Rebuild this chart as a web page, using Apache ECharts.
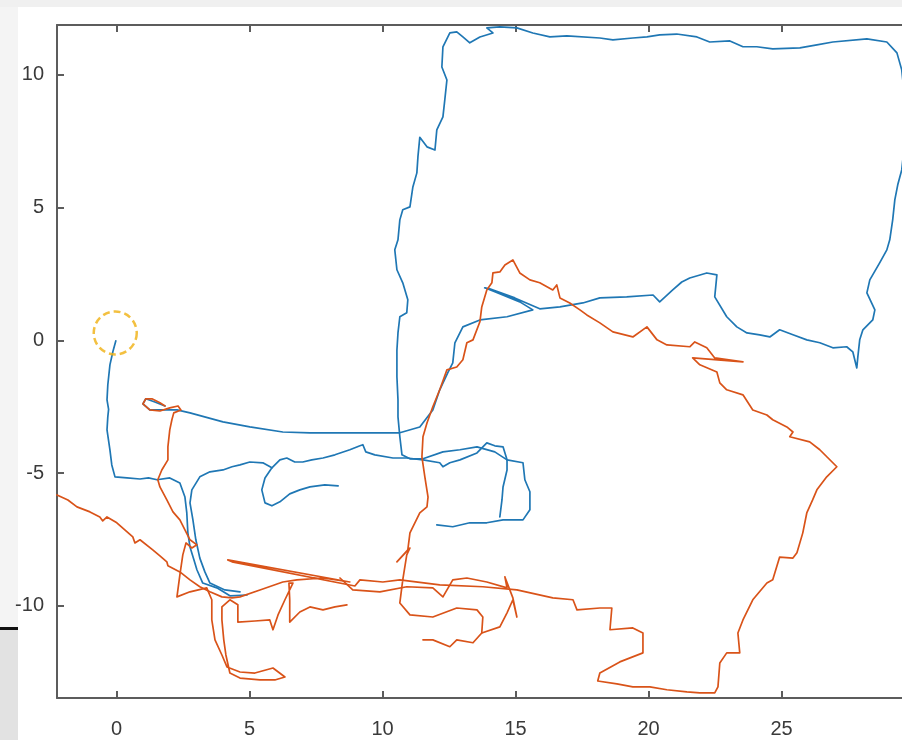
<!DOCTYPE html>
<html>
<head>
<meta charset="utf-8">
<script src="https://cdn.jsdelivr.net/npm/echarts@6/dist/echarts.min.js"></script>
<style>
html,body{margin:0;padding:0;background:#fff;}
#chart{width:902px;height:740px;}
</style>
</head>
<body>
<div id="chart"></div>
<script>
// ---- tick labels ----
const xTicks = [0, 5, 10, 15, 20, 25];
const yTicks = [-10, -5, 0, 5, 10];
const xRange = [-2.24, 29.53];
const yRange = [-13.47, 11.88];

// ---- start marker ----
const startMarker = [[-0.05, 0.28]];

// ---- blue trajectory (segments) ----
const blueA = [[-0.03,-0.02],[-0.14,-0.43],[-0.25,-0.92],[-0.33,-1.68],[-0.36,-2.24],[-0.30,-2.6],[-0.33,-2.88],[-0.36,-3.37],[-0.25,-4.12],[-0.18,-4.69],[-0.06,-5.14],[0.39,-5.18],[0.88,-5.22],[1.2,-5.18],[1.52,-5.25],[2.00,-5.18],[2.38,-5.37],[2.57,-5.90],[2.64,-6.50],[2.68,-7.25],[2.76,-7.78],[2.91,-8.27],[3.02,-8.64],[3.24,-9.14],[3.77,-9.32],[4.26,-9.62],[4.90,-9.59]];
const blueB = [[4.64,-9.47],[4.07,-9.40],[3.51,-9.14],[3.32,-8.72],[3.13,-8.20],[2.98,-7.51],[2.87,-6.76],[2.76,-6.12],[2.83,-5.63],[3.13,-5.14],[3.51,-4.95],[4.00,-4.88],[4.34,-4.76],[4.64,-4.69],[5.01,-4.58],[5.50,-4.61],[5.84,-4.80],[5.58,-5.18],[5.46,-5.63],[5.58,-6.12],[5.84,-6.23],[6.14,-6.08],[6.51,-5.78],[6.89,-5.63],[7.27,-5.52],[7.83,-5.44],[8.33,-5.48]];
const blueC = [[5.84,-4.80],[6.14,-4.50],[6.40,-4.43],[6.70,-4.58],[7.00,-4.58],[7.34,-4.50],[7.76,-4.43],[8.21,-4.31],[8.77,-4.12],[9.15,-3.97],[9.26,-3.93],[9.37,-4.20],[9.71,-4.31],[10.39,-4.43],[10.91,-4.43],[11.52,-4.50],[12.15,-4.61],[12.27,-4.76],[12.53,-4.61],[12.91,-4.50],[13.55,-4.24],[13.92,-3.86],[14.22,-3.97],[14.53,-4.01],[14.68,-4.50],[15.28,-4.61],[15.35,-5.25],[15.54,-5.70],[15.54,-6.38],[15.28,-6.76],[14.53,-6.76],[13.92,-6.87],[13.28,-6.87],[12.64,-7.02],[12.04,-6.95]];
const blueD = [[14.41,-6.65],[14.49,-6.01],[14.53,-5.52],[14.68,-4.88],[14.68,-4.50],[14.22,-4.20],[13.55,-4.01],[12.91,-4.12],[12.27,-4.20],[11.52,-4.46],[11.03,-4.46],[10.73,-4.31],[10.65,-3.63],[10.58,-2.88],[10.58,-2.24],[10.54,-1.37],[10.54,-0.36],[10.58,0.28],[10.65,0.89],[10.91,1.04],[10.95,1.53],[10.76,2.17],[10.54,2.66],[10.46,3.41],[10.58,3.79],[10.65,4.54],[10.76,4.92],[11.03,5.03],[11.14,5.78],[11.29,6.31],[11.33,6.91],[11.40,7.65],[11.67,7.29],[11.97,7.17],[12.04,7.93],[12.27,8.42],[12.34,9.06],[12.42,9.81],[12.23,10.30],[12.27,11.06],[12.53,11.58],[12.79,11.62],[13.02,11.43],[13.28,11.21],[13.66,11.43],[14.15,11.58],[13.92,11.77],[14.41,11.81],[15.05,11.77],[15.65,11.58],[16.29,11.43],[16.93,11.47],[18.17,11.39],[18.66,11.32],[19.41,11.39],[19.94,11.43],[20.42,11.51],[21.06,11.54],[21.82,11.43],[22.30,11.24],[23.06,11.28],[23.55,11.06],[24.07,11.06],[24.67,10.98],[25.69,11.02],[26.33,11.13],[26.93,11.24],[28.21,11.36],[28.96,11.24],[29.34,10.83],[29.52,10.19],[29.64,9.06],[29.64,7.55],[29.52,6.42],[29.37,5.86],[29.26,5.29],[29.18,4.54],[29.07,3.79],[28.96,3.41],[28.69,2.92],[28.32,2.28],[28.21,1.79],[28.51,1.15],[28.43,0.77],[28.06,0.40],[27.94,0.02],[27.87,-0.62],[27.83,-1.04],[27.68,-0.43],[27.45,-0.24],[26.93,-0.28],[26.44,-0.09],[25.95,0.02],[25.43,0.21],[24.93,0.40],[24.56,0.13],[24.18,0.21],[23.70,0.28],[23.32,0.51],[22.94,0.89],[22.49,1.64],[22.57,2.47],[22.19,2.54],[21.55,2.35],[21.25,2.20],[20.91,1.90],[20.42,1.45],[20.17,1.71],[19.18,1.64],[18.17,1.60],[17.53,1.41],[16.67,1.26],[15.91,1.19],[14.97,1.60],[14.03,1.94],[13.84,1.98],[14.22,1.83],[15.16,1.45],[15.65,1.15],[14.68,0.89],[13.66,0.77],[13.02,0.51],[12.72,-0.09],[12.64,-0.85],[12.45,-1.22],[12.15,-1.86],[11.89,-2.62],[11.40,-3.26],[10.65,-3.48],[9.52,-3.48],[8.51,-3.48],[7.27,-3.48],[6.25,-3.45],[5.01,-3.26],[4.00,-3.07],[2.76,-2.73],[2.27,-2.62],[1.82,-2.62],[1.25,-2.62],[0.99,-2.39],[1.10,-2.20],[1.44,-2.32],[1.82,-2.47]];

// ---- orange trajectory (segments) ----
const orangeA = [[-2.24,-5.82],[-1.83,-6.01],[-1.49,-6.27],[-1.00,-6.46],[-0.63,-6.65],[-0.52,-6.80],[-0.36,-6.65],[0.01,-6.87],[0.31,-7.14],[0.61,-7.40],[0.69,-7.63],[0.88,-7.51],[1.36,-7.89],[1.63,-8.12],[1.89,-8.34],[1.93,-8.49],[2.38,-8.72],[2.76,-9.02],[3.13,-9.28],[3.51,-9.47],[3.96,-9.66],[4.34,-9.70],[4.64,-9.66],[5.39,-9.40],[6.25,-9.10],[6.78,-9.02],[7.76,-8.95],[8.77,-9.10],[4.18,-8.27],[4.34,-8.34],[8.96,-9.25],[9.15,-9.02],[10.01,-9.10],[10.65,-9.02],[12.15,-9.21],[13.77,-9.28],[15.05,-9.40],[16.40,-9.70],[17.16,-9.77],[17.31,-10.15],[18.17,-10.08],[18.62,-10.08],[18.55,-10.90],[19.41,-10.83],[19.79,-11.02],[19.79,-11.77],[18.92,-12.11],[18.17,-12.53],[18.09,-12.83],[18.81,-12.94],[19.41,-13.05],[20.05,-13.05],[20.69,-13.16],[21.44,-13.24],[21.93,-13.28],[22.49,-13.28],[22.61,-13.05],[22.68,-12.15],[22.94,-11.77],[23.43,-11.77],[23.36,-11.02],[23.55,-10.53],[23.92,-9.77],[24.45,-9.14],[24.67,-9.02],[24.93,-8.16],[25.43,-8.20],[25.58,-8.00],[25.80,-7.25],[25.95,-6.50],[26.17,-6.01],[26.33,-5.63],[26.70,-5.14],[27.08,-4.76],[26.44,-4.12],[26.06,-3.82],[25.31,-3.63],[25.43,-3.45],[25.20,-3.26],[24.67,-2.99],[24.45,-2.81],[23.92,-2.62],[23.55,-2.05],[22.94,-1.86],[22.68,-1.60],[22.57,-1.19],[21.93,-0.92],[21.66,-0.66],[23.55,-0.81],[22.49,-0.66],[22.19,-0.28],[21.74,-0.06],[21.55,-0.24],[20.69,-0.17],[20.32,0.02],[19.94,0.51],[19.41,0.13],[18.66,0.32],[18.17,0.66],[17.68,0.96],[17.42,1.15],[17.04,1.41],[16.67,1.60],[16.55,2.09],[16.40,1.90],[15.91,2.17],[15.54,2.28],[15.16,2.54],[14.90,3.03],[14.60,2.84],[14.41,2.58],[14.15,2.54],[14.11,2.17],[13.92,1.90],[13.73,1.26],[13.66,0.70],[13.40,0.02],[13.17,-0.09],[13.02,-0.73],[12.79,-1.00],[12.42,-1.11],[12.15,-1.86],[11.89,-2.50],[11.67,-3.11],[11.52,-3.63],[11.48,-4.39],[11.59,-5.14],[11.71,-5.90],[11.67,-6.27],[11.40,-6.50],[11.03,-7.25],[10.95,-7.89],[10.54,-8.34],[11.03,-7.82],[10.91,-8.08],[10.76,-9.02],[10.65,-9.89],[11.03,-10.34],[11.89,-10.42],[12.79,-10.08],[13.55,-10.15],[13.77,-10.42],[13.73,-11.02],[13.40,-11.39],[12.79,-11.28],[12.53,-11.54],[11.89,-11.28],[11.52,-11.28]];
const orangeB = [[1.82,-2.47],[1.63,-2.35],[1.33,-2.20],[1.10,-2.20],[0.99,-2.39],[1.25,-2.62],[1.63,-2.66],[2.00,-2.54],[2.31,-2.47],[2.42,-2.62],[2.15,-2.73],[2.08,-2.99],[2.00,-3.37],[1.93,-4.01],[1.93,-4.50],[1.70,-4.88],[1.55,-5.25],[1.63,-5.52],[1.89,-6.01],[2.12,-6.46],[2.38,-6.76],[2.57,-7.14],[2.76,-7.51],[3.02,-7.70],[2.83,-7.82],[2.61,-7.63],[2.49,-8.08],[2.38,-8.83],[2.27,-9.66],[2.76,-9.47],[3.39,-9.32],[3.58,-9.77],[3.58,-10.53],[3.70,-11.28],[3.96,-11.85],[4.15,-12.30],[4.64,-12.49],[5.20,-12.53],[5.88,-12.34],[6.33,-12.68],[5.95,-12.79],[5.39,-12.79],[4.64,-12.72],[4.26,-12.53],[4.11,-11.85],[4.03,-11.28],[3.96,-10.53],[3.96,-10.04],[4.26,-9.77],[4.56,-9.96],[4.56,-10.61],[5.20,-10.57],[5.76,-10.53],[5.88,-10.90],[6.07,-10.34],[6.33,-9.77],[6.63,-9.14],[6.48,-9.14],[6.51,-9.77],[6.51,-10.61],[6.89,-10.23],[7.27,-10.04],[7.76,-10.15],[8.21,-10.04],[8.66,-9.96]];
const orangeC = [[8.40,-8.95],[8.88,-9.40],[9.90,-9.47],[10.91,-9.28],[11.89,-9.32],[12.27,-9.66],[12.64,-9.02],[13.17,-8.95],[13.92,-9.10],[14.68,-9.32],[14.60,-8.91],[14.90,-9.70],[15.05,-10.42],[14.90,-9.77],[14.68,-10.26],[14.41,-10.79],[13.73,-11.02]];

const BLUE = '#1f77b4';
const ORANGE = '#d95319';

function lineSeries(data, color) {
  return {
    type: 'line', data: data, showSymbol: false, symbol: 'none',
    xAxisIndex: 0, yAxisIndex: 0, z: 3, clip: true,
    lineStyle: { color: color, width: 1.7, join: 'round', cap: 'round' },
    animation: false, silent: true
  };
}

const axisColor = '#5c5c5c';
const labelStyle = { color: '#3a3a3a', fontSize: 20, fontFamily: 'Liberation Sans, Arial, sans-serif' };

const chart = echarts.init(document.getElementById('chart'), null, { renderer: 'canvas' });
chart.setOption({
  backgroundColor: '#ffffff',
  animation: false,
  graphic: [
    { type: 'rect', shape: { x: 0, y: 0, width: 902, height: 7 }, style: { fill: '#f0f0f0' }, z: -10 },
    { type: 'rect', shape: { x: 0, y: 7, width: 18, height: 620 }, style: { fill: '#f4f4f4' }, z: -10 },
    { type: 'rect', shape: { x: 0, y: 630, width: 18, height: 110 }, style: { fill: '#e2e2e2' }, z: -10 },
    { type: 'rect', shape: { x: 0, y: 627, width: 18, height: 3 }, style: { fill: '#111111' }, z: -10 }
  ],
  grid: { left: 57, top: 25, right: 0, bottom: 42, containLabel: false },
  xAxis: [
    {
      type: 'value', position: 'bottom', min: xRange[0], max: xRange[1],
      axisLine: { show: true, onZero: false, lineStyle: { color: axisColor, width: 2 } },
      axisTick: { show: true, inside: true, length: 7, customValues: xTicks, lineStyle: { color: axisColor, width: 2 } },
      axisLabel: Object.assign({ customValues: xTicks, margin: 21 }, labelStyle),
      splitLine: { show: false }
    },
    {
      type: 'value', position: 'top', min: xRange[0], max: xRange[1],
      axisLine: { show: true, onZero: false, lineStyle: { color: axisColor, width: 2 } },
      axisTick: { show: true, inside: true, length: 7, customValues: xTicks, lineStyle: { color: axisColor, width: 2 } },
      axisLabel: { show: false },
      splitLine: { show: false }
    }
  ],
  yAxis: [
    {
      type: 'value', position: 'left', min: yRange[0], max: yRange[1],
      axisLine: { show: true, onZero: false, lineStyle: { color: axisColor, width: 2 } },
      axisTick: { show: true, inside: true, length: 7, customValues: yTicks, lineStyle: { color: axisColor, width: 2 } },
      axisLabel: Object.assign({ customValues: yTicks, margin: 13 }, labelStyle),
      splitLine: { show: false }
    }
  ],
  series: [
    lineSeries(blueA, BLUE),
    lineSeries(blueB, BLUE),
    lineSeries(blueC, BLUE),
    lineSeries(blueD, BLUE),
    lineSeries(orangeA, ORANGE),
    lineSeries(orangeB, ORANGE),
    lineSeries(orangeC, ORANGE),
    {
      type: 'scatter', data: startMarker, symbol: 'circle', symbolSize: 43,
      xAxisIndex: 0, yAxisIndex: 0, z: 5, animation: false, silent: true,
      itemStyle: { color: 'rgba(0,0,0,0)', borderColor: '#f0b010', borderWidth: 2.5, borderType: [7, 4] }
    }
  ]
});
</script>
</body>
</html>
